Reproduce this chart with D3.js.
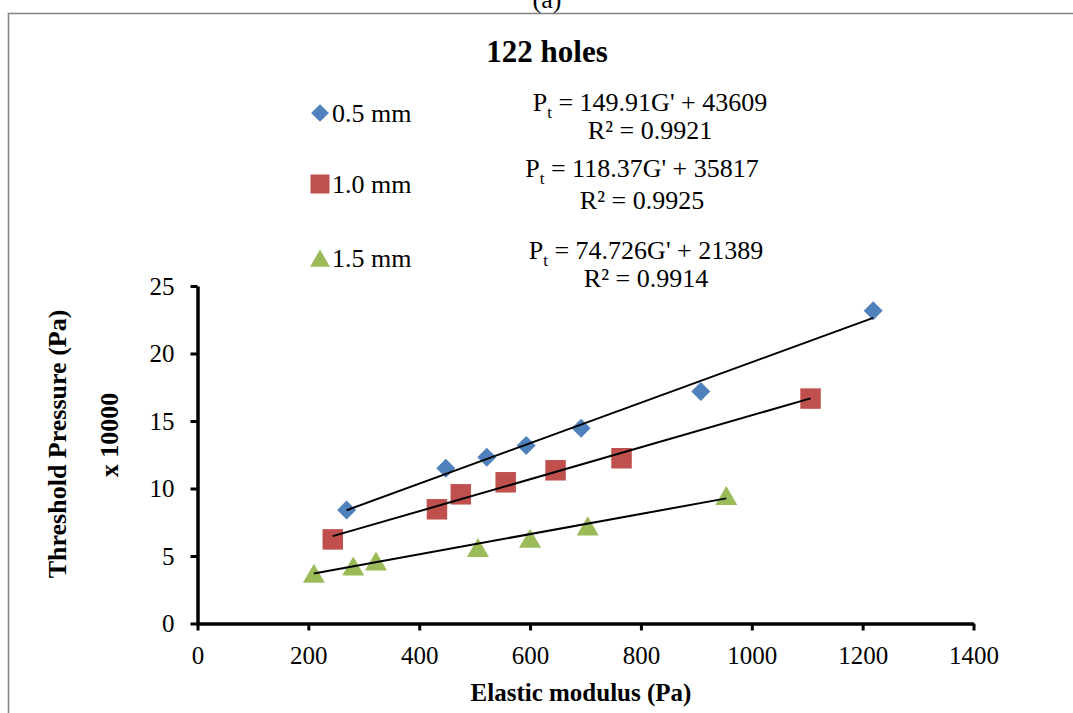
<!DOCTYPE html>
<html>
<head>
<meta charset="utf-8">
<script src="https://cdn.jsdelivr.net/npm/d3@7"></script>
<style>
  html, body { margin: 0; padding: 0; background: #fff; }
  svg { display: block; }
  text { font-family: "Liberation Serif", "Times New Roman", serif; fill: #000; }
</style>
</head>
<body>
<svg id="chart" width="1073" height="713"></svg>
<script>
// Elastic modulus G' (Pa) and threshold pressure (x 10000 Pa) for each hole diameter
const seriesNames = ["0.5 mm", "1.0 mm", "1.5 mm"];
const modulus05 = [269, 448, 522, 593, 692, 908, 1219];
const pressure05 = [8.40, 11.50, 12.31, 13.18, 14.47, 17.18, 23.17];
const modulus10 = [244, 432, 475, 556, 646, 765, 1106];
const pressure10 = [6.23, 8.46, 9.57, 10.46, 11.35, 12.24, 16.66];
const modulus15 = [210, 281, 322, 506, 600, 704, 954];
const pressure15 = [3.71, 4.25, 4.62, 5.61, 6.30, 7.22, 9.47];

// Linear fits: Pt = slope * G' + intercept (Pa)
const fitSlopes = [149.91, 118.37, 74.726];
const fitIntercepts = [43609, 35817, 21389];
const fitR2 = ["0.9921", "0.9925", "0.9914"];

const xTicks = [0, 200, 400, 600, 800, 1000, 1200, 1400];
const yTicks = [0, 5, 10, 15, 20, 25];

const colors = ["#4F81BD", "#C0504D", "#9BBB59"];
const shapes = [d3.symbolDiamond2, d3.symbolSquare, d3.symbolTriangle];

const svg = d3.select("#chart");

// Outer chart frame
svg.append("rect")
  .attr("x", 8.5).attr("y", 13.5)
  .attr("width", 1080).attr("height", 720)
  .attr("fill", "none").attr("stroke", "#888").attr("stroke-width", 1.6);

// Panel label, partly above the frame
svg.append("text")
  .attr("x", 547).attr("y", 8)
  .attr("text-anchor", "middle")
  .style("font-size", "26px")
  .text("(a)");

svg.append("text")
  .attr("x", 547).attr("y", 62)
  .attr("text-anchor", "middle")
  .style("font-size", "31px").style("font-weight", "bold")
  .text("122 holes");

const x = d3.scaleLinear().domain([0, 1400]).range([197.5, 973.5]);
const y = d3.scaleLinear().domain([0, 25]).range([623.5, 286]);

// Axes
const xAxis = d3.axisBottom(x).tickValues(xTicks).tickFormat(d3.format("d"))
  .tickSize(7).tickSizeOuter(0).tickPadding(16);
const yAxis = d3.axisLeft(y).tickValues(yTicks).tickFormat(d3.format("d"))
  .tickSize(7).tickSizeOuter(0).tickPadding(16);

const gx = svg.append("g").attr("transform", `translate(0,${y(0)})`).call(xAxis);
const gy = svg.append("g").attr("transform", `translate(${x(0)},0)`).call(yAxis);

[gx, gy].forEach(g => {
  g.select(".domain").attr("stroke", "#000").attr("stroke-width", 3.5);
  g.selectAll(".tick line").attr("stroke", "#000").attr("stroke-width", 3);
  g.selectAll(".tick text")
    .style("font-family", "'Liberation Serif', 'Times New Roman', serif")
    .style("font-size", "25px").attr("fill", "#000");
});
gx.selectAll(".tick text").attr("dy", "0.71em");
gy.selectAll(".tick text").attr("dy", "0.33em");

// Axis titles
svg.append("text")
  .attr("x", 581).attr("y", 701)
  .attr("text-anchor", "middle")
  .style("font-size", "25px").style("font-weight", "bold")
  .text("Elastic modulus (Pa)");

svg.append("text")
  .attr("transform", "translate(66,444) rotate(-90)")
  .attr("text-anchor", "middle")
  .style("font-size", "26px").style("font-weight", "bold")
  .text("Threshold Pressure (Pa)");

svg.append("text")
  .attr("transform", "translate(118,435) rotate(-90)")
  .attr("text-anchor", "middle")
  .style("font-size", "26px").style("font-weight", "bold")
  .text("x 10000");

const seriesData = [
  modulus05.map((g, i) => ({ g, p: pressure05[i] })),
  modulus10.map((g, i) => ({ g, p: pressure10[i] })),
  modulus15.map((g, i) => ({ g, p: pressure15[i] }))
];

// Markers
const markerSizes = [230, 420, 210];
seriesData.forEach((data, s) => {
  svg.append("g").selectAll("path")
    .data(data)
    .join("path")
    .attr("d", d3.symbol().type(shapes[s]).size(markerSizes[s]))
    .attr("transform", d => `translate(${x(d.g)},${y(d.p) + (s === 2 ? 3 : 0)})`)
    .attr("fill", colors[s]);
});

// Trend lines over each series' modulus range
seriesData.forEach((data, s) => {
  const [g0, g1] = d3.extent(data, d => d.g);
  const fit = g => (fitSlopes[s] * g + fitIntercepts[s]) / 10000;
  svg.append("line")
    .attr("x1", x(g0)).attr("y1", y(fit(g0)))
    .attr("x2", x(g1)).attr("y2", y(fit(g1)))
    .attr("stroke", "#000").attr("stroke-width", 2);
});

// Legend
const legendY = [113, 184, 258];
const legendSizes = [200, 360, 170];
seriesNames.forEach((name, s) => {
  svg.append("path")
    .attr("d", d3.symbol().type(shapes[s]).size(legendSizes[s]))
    .attr("transform", `translate(320,${legendY[s] + (s === 2 ? 3 : 0)})`)
    .attr("fill", colors[s]);
  svg.append("text")
    .attr("x", 332).attr("y", legendY[s])
    .attr("dy", "0.35em")
    .style("font-size", "26px")
    .text(name);
});

// Fit equations
const eqY = [[102, 130], [168, 200], [250, 278]];
const eqX = [650, 642, 646];
fitSlopes.forEach((m, s) => {
  const t = svg.append("text")
    .attr("x", eqX[s]).attr("y", eqY[s][0]).attr("dy", "0.35em")
    .attr("text-anchor", "middle")
    .style("font-size", "26px");
  t.append("tspan").text("P");
  t.append("tspan").attr("dy", 7).style("font-size", "17px").text("t");
  t.append("tspan").attr("dy", -7).text(` = ${m}G' + ${fitIntercepts[s]}`);
  svg.append("text")
    .attr("x", eqX[s]).attr("y", eqY[s][1]).attr("dy", "0.35em")
    .attr("text-anchor", "middle")
    .style("font-size", "26px")
    .text(`R² = ${fitR2[s]}`);
});
</script>
</body>
</html>
